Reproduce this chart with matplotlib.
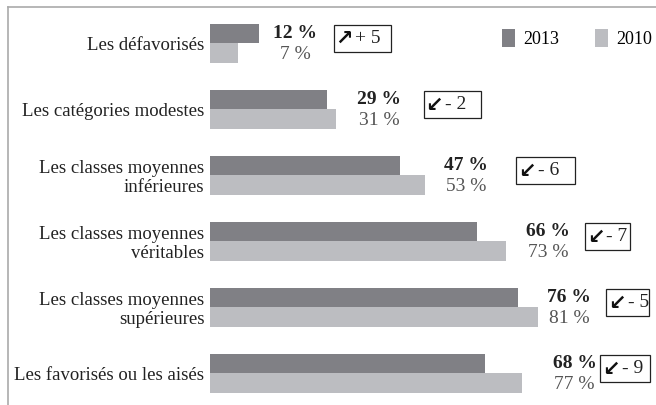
import matplotlib.pyplot as plt
from matplotlib.patches import Rectangle, Patch
from matplotlib.lines import Line2D

plt.rcParams['font.family'] = ['Liberation Serif', 'DejaVu Sans']

# data
categories = ['Les défavorisés', 'Les catégories modestes',
              'Les classes moyennes\ninférieures', 'Les classes moyennes\nvéritables',
              'Les classes moyennes\nsupérieures', 'Les favorisés ou les aisés']
values_2013 = [12, 29, 47, 66, 76, 68]
values_2010 = [7, 31, 53, 73, 81, 77]
changes = ['+ 5', '- 2', '- 6', '- 7', '- 5', '- 9']
arrows = ['\u2197', '\u2199', '\u2199', '\u2199', '\u2199', '\u2199']

# layout tweaks (data units along x)
label_pad = [9, 10.7, 10.2, 10.5, 7.6, 13.0]
box_left = [30.6, 52.8, 75.6, 92.6, 97.8, 96.4]
box_width = [14.1, 14.1, 14.6, 11.1, 10.6, 12.2]

DARK = '#808085'
LIGHT = '#bcbdc1'

W, H = 656, 405
fig = plt.figure(figsize=(W / 100, H / 100), dpi=100)
ax = fig.add_axes([210 / W, 0, (W - 210) / W, 398 / H])

n = len(categories)
ys = list(range(n))
bh = 0.295
ax.barh([y - bh / 2 for y in ys], values_2013, height=bh, color=DARK, label='2013')
ax.barh([y + bh / 2 for y in ys], values_2010, height=bh, color=LIGHT, label='2010')

ax.set_xlim(0, (W - 210) / 4.05)
ax.set_ylim((405 - 43.5) / 66, (7 - 43.5) / 66)

ax.set_yticks(ys)
ax.set_yticklabels(categories, fontsize=13.5, color='#222222', linespacing=1.15)
ax.tick_params(axis='y', length=0, pad=4)
ax.set_xticks([])
for s in ax.spines.values():
    s.set_visible(False)

for i in range(n):
    lx = max(values_2013[i], values_2010[i]) + label_pad[i]
    ax.text(lx, i - bh / 2, f'{values_2013[i]} %', ha='center', va='center',
            fontsize=14, fontweight='bold', color='#222222')
    ax.text(lx, i + bh / 2 + 0.02, f'{values_2010[i]} %', ha='center', va='center',
            fontsize=14, color='#555555')
    bx = box_left[i]
    by = i - 0.07
    bhh = 0.41
    ax.add_patch(Rectangle((bx, by - bhh / 2), box_width[i], bhh, fill=False,
                           edgecolor='#222222', linewidth=0.9, clip_on=False))
    ax.text(bx + 0.4, by, arrows[i], ha='left', va='center', fontsize=15,
            fontweight='bold', family='DejaVu Sans', color='#111111')
    ax.text(bx + 5.3, by, changes[i], ha='left', va='center', fontsize=14,
            color='#222222')

handles = [Patch(facecolor=DARK, label='2013'), Patch(facecolor=LIGHT, label='2010')]
ax.legend(handles=handles, loc='upper right', bbox_to_anchor=(1.028, 0.985), ncol=2,
          frameon=False, fontsize=13, handlelength=0.72, handleheight=1.1,
          handletextpad=0.45, columnspacing=2.0)

# grey frame on top and left
fig.add_artist(Line2D([8 / W, 1], [1 - 7 / H, 1 - 7 / H], color='#aaaaaa', lw=1.2,
                      transform=fig.transFigure))
fig.add_artist(Line2D([8 / W, 8 / W], [0, 1 - 7 / H], color='#aaaaaa', lw=1.2,
                      transform=fig.transFigure))

fig.savefig('out.png', dpi=100)
